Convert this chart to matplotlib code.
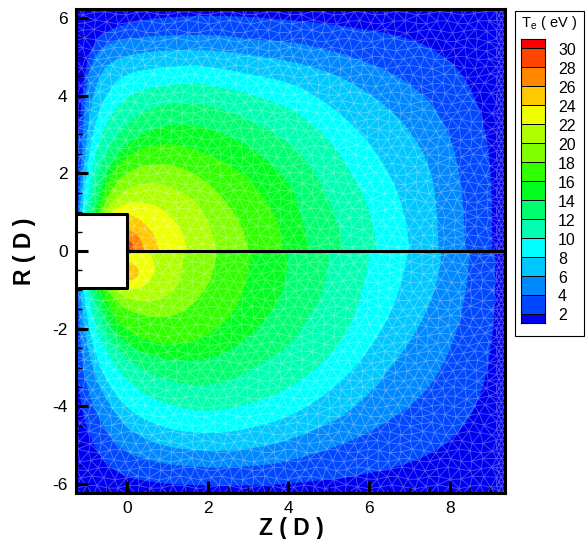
import numpy as np
import matplotlib
matplotlib.use('Agg')
import matplotlib.pyplot as plt
import matplotlib.tri as tri
from matplotlib.patches import PathPatch, Rectangle
from matplotlib.path import Path

plt.rcParams['font.family'] = ['Liberation Sans', 'DejaVu Sans']
plt.rcParams['axes.unicode_minus'] = False

# colorbar levels and band colours (lowest band first)
band_edges = [1, 2, 4, 6, 8, 10, 12, 14, 16, 18, 20, 22, 24, 26, 28, 30, 31]
band_colors = ['#0000f0', '#0048ff', '#0088ff', '#00c8ff', '#00ffff', '#00ffb0',
               '#00ff70', '#00ff20', '#30ff00', '#80ff00', '#b0ff00', '#f0ff00',
               '#ffc800', '#ff8800', '#ff4400', '#ff0000']
tick_levels = [2, 4, 6, 8, 10, 12, 14, 16, 18, 20, 22, 24, 26, 28, 30]

# contour lines, (Z, R), upper half R > 0
upper = {
    2: [(-1.23, 2.73), (-1.12, 3.76), (-1.0, 4.87), (-0.83, 5.30), (-0.58, 5.64), (0.24, 5.94), (1.48, 6.05),
        (2.72, 6.05), (4.04, 5.94), (4.86, 5.86), (5.69, 5.73), (6.51, 5.60), (7.34, 5.34), (7.91, 4.96),
        (8.33, 4.53), (8.66, 3.84), (8.86, 3.16), (8.99, 2.30), (9.03, 1.18), (9.04, 0)],
    4: [(-1.20, 1.01), (-1.12, 2.47), (-1.0, 4.36), (-0.79, 5.04), (-0.50, 5.34), (0.24, 5.51), (1.48, 5.56),
        (2.30, 5.56), (3.13, 5.43), (4.04, 5.39), (4.86, 5.21), (5.69, 4.96), (6.51, 4.61), (7.09, 4.23),
        (7.58, 3.76), (7.99, 2.98), (8.20, 2.21), (8.33, 1.18), (8.37, 0)],
    6: [(-1.16, 1.01), (-1.04, 2.47), (-0.87, 3.93), (-0.63, 4.61), (-0.34, 4.91), (0.24, 5.09), (1.07, 5.17),
        (1.89, 5.17), (2.72, 5.10), (4.04, 4.89), (4.86, 4.66), (5.69, 4.27), (6.51, 3.67), (7.09, 2.98),
        (7.50, 2.21), (7.67, 1.18), (7.71, 0)],
    8: [(-1.10, 1.01), (-0.96, 2.47), (-0.71, 3.58), (-0.42, 4.18), (-0.01, 4.57), (0.65, 4.70), (1.48, 4.78),
        (2.30, 4.70), (3.13, 4.53), (4.04, 4.34), (4.86, 3.88), (5.69, 3.16), (6.35, 2.30), (6.84, 1.18), (7.0, 0)],
    10: [(-1.01, 1.01), (-0.83, 2.30), (-0.58, 3.16), (-0.17, 3.84), (0.41, 4.18), (1.48, 4.34), (2.30, 4.23),
         (3.13, 4.01), (4.04, 3.67), (4.53, 3.33), (5.11, 2.73), (5.69, 1.78), (6.06, 0.92), (6.18, 0)],
    12: [(-0.91, 1.01), (-0.71, 2.04), (-0.42, 2.73), (0.08, 3.37), (0.65, 3.71), (1.48, 3.84), (2.30, 3.67),
         (3.13, 3.33), (4.04, 2.77), (4.53, 2.21), (4.94, 1.44), (5.27, 0.58), (5.35, 0)],
    14: [(-0.79, 1.01), (-0.58, 1.87), (-0.25, 2.47), (0.24, 2.94), (0.82, 3.20), (1.48, 3.28), (2.30, 3.07),
         (3.13, 2.64), (4.04, 1.78), (4.28, 1.01), (4.53, 0)],
    16: [(-0.71, 0.97), (-0.50, 1.78), (-0.17, 2.30), (0.41, 2.68), (1.07, 2.79), (1.89, 2.55), (2.72, 2.13),
         (3.38, 1.44), (3.75, 0.75), (3.87, 0)],
    18: [(-0.63, 0.97), (-0.42, 1.61), (0.08, 2.08), (0.57, 2.25), (1.23, 2.21), (1.89, 1.87), (2.47, 1.27),
         (2.88, 0.58), (3.0, 0)],
    20: [(-0.54, 0.97), (-0.34, 1.35), (0.08, 1.65), (0.65, 1.78), (1.23, 1.61), (1.73, 1.27), (2.06, 0.67), (2.22, 0)],
    22: [(-0.42, 0.97), (-0.17, 1.18), (0.24, 1.27), (0.73, 1.18), (1.15, 0.84), (1.40, 0.41), (1.48, 0)],
    24: [(0.0, 0.94), (0.24, 0.88), (0.57, 0.58), (0.75, 0.24), (0.78, 0)],
    26: [(0.0, 0.54), (0.2, 0.48), (0.35, 0.28), (0.42, 0)],
    28: [(0.0, 0.28), (0.14, 0.22), (0.2, 0)],
    30: [(0.0, 0.15), (0.06, 0.1), (0.08, 0)],
}

# same for the lower half R < 0
lower = {
    2: [(-1.23, -2.98), (-1.16, -4.0), (-0.83, -5.04), (-0.34, -5.68), (0.41, -5.94), (1.89, -6.05), (3.54, -6.02),
        (4.04, -5.98), (5.69, -5.81), (7.34, -5.38), (8.33, -4.61), (8.82, -3.58), (9.03, -2.38), (9.11, -1.26), (9.11, 0)],
    4: [(-1.20, -0.94), (-1.16, -2.55), (-0.96, -3.66), (-0.67, -4.35), (-0.25, -5.04), (0.49, -5.42), (1.89, -5.59),
        (3.21, -5.53), (4.04, -5.42), (5.69, -4.86), (6.92, -4.09), (7.58, -3.41), (8.08, -2.38), (8.37, -1.26), (8.49, 0)],
    6: [(-1.16, -0.94), (-1.04, -2.2), (-0.79, -3.23), (-0.42, -4.01), (0.08, -4.65), (0.90, -5.04), (2.06, -5.17),
        (3.21, -5.08), (4.04, -4.86), (4.86, -4.52), (5.69, -4.01), (6.51, -3.06), (7.25, -1.95), (7.67, -0.92), (7.79, 0)],
    8: [(-1.08, -0.94), (-0.96, -1.95), (-0.71, -2.89), (-0.34, -3.66), (0.24, -4.26), (1.07, -4.61), (2.14, -4.71),
        (3.13, -4.56), (4.04, -4.26), (4.86, -3.75), (5.69, -2.98), (6.43, -1.86), (6.80, -0.83), (6.96, 0)],
    10: [(-0.98, -0.94), (-0.83, -1.78), (-0.58, -2.46), (-0.17, -3.15), (0.49, -3.75), (1.31, -4.05), (2.14, -4.14),
         (3.13, -3.92), (4.04, -3.53), (4.86, -2.89), (5.52, -2.03), (5.89, -0.83), (6.02, 0)],
    12: [(-0.87, -0.94), (-0.71, -1.60), (-0.38, -2.38), (0.24, -2.98), (1.07, -3.36), (1.89, -3.49), (2.72, -3.28),
         (3.54, -2.76), (4.04, -2.42), (4.45, -1.78), (4.86, -1.09), (5.03, 0)],
    14: [(-0.75, -0.94), (-0.54, -1.60), (-0.17, -2.29), (0.49, -2.68), (1.40, -2.85), (2.30, -2.72), (3.13, -2.12),
         (3.71, -1.43), (3.95, -0.66), (3.99, 0)],
    16: [(-0.63, -0.94), (-0.38, -1.56), (0.03, -2.08), (0.57, -2.33), (1.23, -2.42), (1.89, -2.25), (2.55, -1.73),
         (2.92, -1.0), (3.09, 0)],
    18: [(-0.49, -0.94), (-0.25, -1.35), (0.16, -1.60), (0.78, -1.73), (1.40, -1.60), (1.89, -1.09), (2.14, -0.57), (2.22, 0)],
    20: [(-0.34, -0.94), (-0.09, -1.18), (0.32, -1.30), (0.82, -1.26), (1.23, -0.96), (1.35, -0.57), (1.41, 0)],
    22: [(0.0, -0.96), (0.24, -0.99), (0.53, -0.83), (0.67, -0.57), (0.70, -0.40), (0.57, 0), (0.2, 0), (0.12, -0.08), (0.0, -0.1)],
    24: [(0.0, -0.3), (0.15, -0.32), (0.27, -0.43), (0.3, -0.55), (0.25, -0.68), (0.1, -0.77), (0.0, -0.77)],
}


def fill_contour(ax, points, color):
    # smooth line through the read points, closed along R = 0
    pts = np.array(points)
    verts = [pts[0]]
    codes = [Path.MOVETO]
    for i in range(1, len(pts) - 1):
        verts += [pts[i], (pts[i] + pts[i + 1]) / 2]
        codes += [Path.CURVE3, Path.CURVE3]
    verts += [pts[-1], (pts[0][0], 0), pts[0]]
    codes += [Path.LINETO, Path.LINETO, Path.CLOSEPOLY]
    ax.add_patch(PathPatch(Path(verts, codes), facecolor=color, edgecolor=color, linewidth=0.3, zorder=2))


fig = plt.figure(figsize=(5.88, 5.39), dpi=100)
ax = fig.add_axes([76 / 588, 1 - 493 / 539, 429 / 588, 484 / 539])
ax.set_xlim(-1.26, 9.36)
ax.set_ylim(-6.23, 6.23)
ax.set_facecolor(band_colors[0])

for half in (upper, lower):
    for level, points in half.items():
        fill_contour(ax, points, band_colors[band_edges.index(level)])

# background mesh, only a texture over the filled contours
xs, ys = [], []
for j, y0 in enumerate(np.arange(-6.3, 6.4, 0.23)):
    for i, x0 in enumerate(np.arange(-1.4, 9.1, 0.27)):
        xs.append(x0 + 0.135 * (j % 2) + 0.05 * np.sin(12.9 * i + 78.2 * j))
        ys.append(y0 + 0.05 * np.sin(39.3 * i + 11.7 * j))
# finer cells along the right edge
for j, y0 in enumerate(np.arange(-6.3, 6.4, 0.12)):
    for x0 in (9.15, 9.27, 9.39):
        xs.append(x0 + 0.06 * (j % 2))
        ys.append(y0)
mesh = tri.Triangulation(xs, ys)
ax.triplot(mesh, color='white', alpha=0.32, linewidth=0.6, zorder=3)

# body of the probe and its wake line
ax.add_patch(Rectangle((-1.26, -0.95), 1.26, 1.9, facecolor='white', edgecolor='none', zorder=4))
ax.plot([-1.26, 0, 0, -1.26], [0.95, 0.95, -0.95, -0.95], color='black', lw=2.2, zorder=5)
ax.plot([0, 9.36], [0, 0], color='black', lw=2.2, zorder=5)

for side in ax.spines.values():
    side.set_linewidth(2.2)
    side.set_zorder(6)
ax.set_xticks([0, 2, 4, 6, 8])
ax.set_yticks([-6, -4, -2, 0, 2, 4, 6])
ax.set_xticks(np.arange(-1, 9.5, 0.5), minor=True)
ax.set_yticks(np.arange(-6, 6.5, 0.5), minor=True)
ax.tick_params(which='major', direction='in', length=8.6, width=2.2, labelsize=12.5, pad=6)
ax.tick_params(which='minor', direction='in', length=4.5, width=1)
ax.xaxis.set_zorder(6)
ax.yaxis.set_zorder(6)

fig.text(291 / 588, 1 - 529 / 539, 'Z ( D )', fontsize=16.5, fontweight='bold', ha='center', va='center')
fig.text(25 / 588, 1 - 251 / 539, 'R ( D )', fontsize=16.5, fontweight='bold', ha='center', va='center', rotation=90)

# legend box
fig.add_artist(Rectangle((515 / 588, 1 - 336 / 539), 69 / 588, 325 / 539, transform=fig.transFigure,
                         facecolor='white', edgecolor='black', linewidth=0.8, zorder=-1))
fig.text(549 / 588, 1 - 23 / 539, r'T$_{\mathregular{e}}$ ( eV )', fontsize=10.5, ha='center', va='center')

cax = fig.add_axes([520.5 / 588, 1 - 323 / 539, 24.5 / 588, 284 / 539])
cax.pcolormesh([0, 1], band_edges, np.arange(16).reshape(-1, 1),
               cmap=matplotlib.colors.ListedColormap(band_colors), edgecolors='black', linewidth=0.6)
cax.set_xlim(0, 1)
cax.set_ylim(1, 31)
cax.set_xticks([])
cax.set_yticks([])
for side in cax.spines.values():
    side.set_linewidth(0.8)
for level in tick_levels:
    cax.text(1.53, level - 0.25, str(level), fontsize=11.5, ha='left', va='center')

fig.savefig('out.png', dpi=100)
